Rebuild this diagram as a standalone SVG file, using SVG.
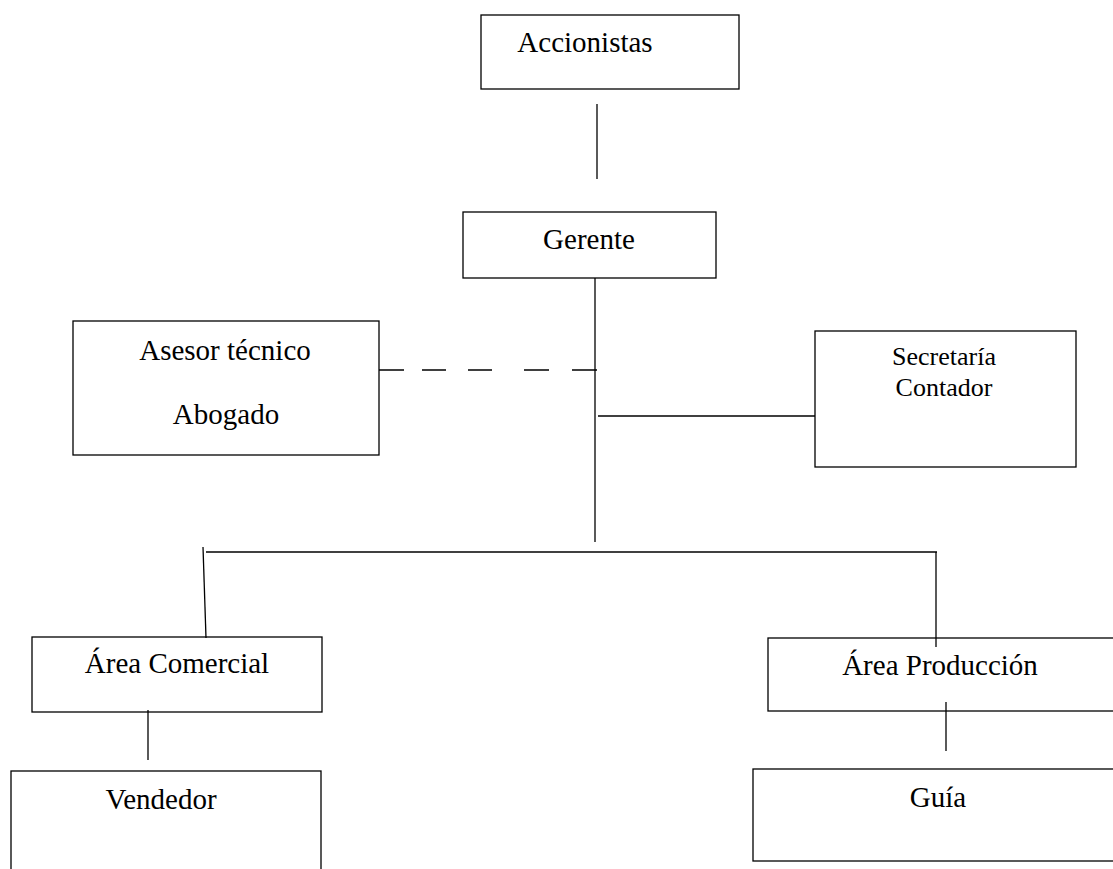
<svg xmlns="http://www.w3.org/2000/svg" width="1113" height="869" viewBox="0 0 1113 869">
<style>
.box{fill:#fff;stroke:#000;stroke-width:1.3}
.ln{fill:none;stroke:#000;stroke-width:1.3}
text{font-family:"Liberation Serif","Times New Roman",serif;fill:#000;text-anchor:middle}
.t{font-size:29px}
.s{font-size:26px}
</style>
<rect width="1113" height="869" fill="#fff"/>
<g id="accionistas">
<rect class="box" x="481" y="15" width="258" height="74"/>
<text class="t" x="585" y="52">Accionistas</text>
</g>
<g id="gerente">
<rect class="box" x="463" y="212" width="253" height="66"/>
<text class="t" x="589" y="249">Gerente</text>
</g>
<g id="asesor">
<rect class="box" x="73" y="321" width="306" height="134"/>
<text class="t" x="225" y="360">Asesor técnico</text>
<text class="t" x="226" y="424">Abogado</text>
</g>
<g id="secretaria">
<rect class="box" x="815" y="331" width="261" height="136"/>
<text class="s" x="944" y="365">Secretaría</text>
<text class="s" x="944" y="396">Contador</text>
</g>
<g id="area-comercial">
<rect class="box" x="32" y="637" width="290" height="75"/>
<text class="t" x="177" y="673">Área Comercial</text>
</g>
<g id="area-produccion">
<rect class="box" x="768" y="638" width="360" height="73"/>
<text class="t" x="940" y="675">Área Producción</text>
</g>
<g id="vendedor">
<rect class="box" x="11" y="771" width="310" height="120"/>
<text class="t" x="161" y="809">Vendedor</text>
</g>
<g id="guia">
<rect class="box" x="753" y="769" width="375" height="92"/>
<text class="t" x="938" y="807">Guía</text>
</g>
<g id="connectors">
<line class="ln" x1="597" y1="104" x2="597" y2="179"/>
<line class="ln" x1="595" y1="278" x2="595" y2="542"/>
<path class="ln" d="M379 370H404M422 370H446M468 370H492M524 370H549M572 370H597"/>
<line class="ln" x1="598" y1="416" x2="815" y2="416"/>
<line class="ln" x1="206" y1="552" x2="937" y2="552"/>
<line class="ln" x1="203" y1="547" x2="206" y2="638"/>
<line class="ln" x1="936" y1="552" x2="936" y2="647"/>
<line class="ln" x1="148" y1="710" x2="148" y2="760"/>
<line class="ln" x1="946" y1="702" x2="946" y2="751"/>
</g>
</svg>
